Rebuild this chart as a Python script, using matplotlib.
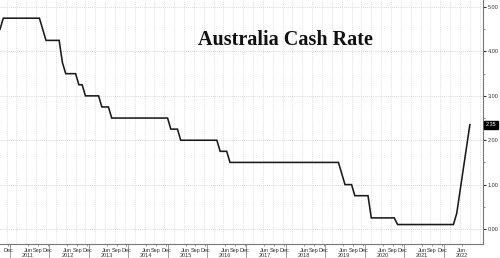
import matplotlib
matplotlib.use("Agg")
import matplotlib.pyplot as plt
from matplotlib.ticker import FixedLocator, MultipleLocator

# Vertices of the monthly cash-rate line (year, month, rate %)
years = [2010, 2010, 2011, 2011, 2011, 2012, 2012, 2012, 2012, 2012, 2012, 2012,
         2013, 2013, 2013, 2013, 2015, 2015, 2015, 2015, 2016, 2016, 2016, 2016,
         2019, 2019, 2019, 2019, 2019, 2020, 2020, 2020, 2020, 2022, 2022, 2022,
         2022, 2022, 2022]
months = [10, 11, 10, 11, 12, 4, 5, 6, 9, 10, 11, 12,
          4, 5, 7, 8, 1, 2, 4, 5, 4, 5, 7, 8,
          5, 6, 7, 9, 10, 2, 3, 10, 11, 4, 5, 6,
          7, 8, 9]
rates = [4.50, 4.75, 4.75, 4.50, 4.25, 4.25, 3.75, 3.50, 3.50, 3.25, 3.25, 3.00,
         3.00, 2.75, 2.75, 2.50, 2.50, 2.25, 2.25, 2.00, 2.00, 1.75, 1.75, 1.50,
         1.50, 1.25, 1.00, 1.00, 0.75, 0.75, 0.25, 0.25, 0.10, 0.10, 0.35, 0.85,
         1.35, 1.85, 2.35]

title = "Australia Cash Rate"
last_label = "2.35"
ytick_values = [0, 1, 2, 3, 4, 5]
label_years = list(range(2010, 2023))

plt.rcParams["font.family"] = ["Liberation Sans", "DejaVu Sans"]

x = [y + (m - 1) / 12 for y, m in zip(years, months)]

fig = plt.figure(figsize=(5.0, 2.58), dpi=100)
ax = fig.add_axes([0.0, 0.054, 0.966, 0.946])

ax.plot(x, rates, color="#1a1a1a", lw=1.15, solid_joinstyle="miter")

ax.set_xlim(2010.75, 2023.0)
ax.set_ylim(-0.34, 5.16)

# y axis on right
ax.yaxis.tick_right()
ax.yaxis.set_major_locator(FixedLocator(ytick_values))
ax.yaxis.set_minor_locator(MultipleLocator(0.5))
ax.set_yticklabels([f"{v:.2f}" for v in ytick_values])
ax.tick_params(axis="y", which="major", length=2.5, width=0.8, color="#333333",
               labelsize=4.0, labelcolor="#333333", pad=1.0, direction="out")
ax.tick_params(axis="y", which="minor", length=1.5, width=0.5, color="#666666")

# x axis: year separators (major) and month labels (minor)
sep = [yr + 0.0 for yr in range(2011, 2023)]
lab_pos, lab_txt = [], []
for yr in label_years:
    for m, name in [(6, "Jun"), (9, "Sep"), (12, "Dec")]:
        t = yr + (m - 0.5) / 12
        if t < 2010.8 or t > 2022.6:
            continue
        lab_pos.append(t)
        lab_txt.append(f"{name}\n{yr}" if m == 6 else name)
ax.xaxis.set_major_locator(FixedLocator(sep))
ax.set_xticklabels([""] * len(sep))
ax.xaxis.set_minor_locator(FixedLocator(lab_pos))
ax.xaxis.set_minor_formatter(plt.FixedFormatter(lab_txt))
ax.tick_params(axis="x", which="major", length=14, width=0.5, color="#777777")
ax.tick_params(axis="x", which="minor", length=1.5, width=0.5, color="#777777",
               labelsize=4.0, labelcolor="#333333", pad=1)
for lbl in ax.xaxis.get_minorticklabels():
    lbl.set_linespacing(1.15)
    lbl.set_verticalalignment("top")

# grids
for v in ytick_values:
    ax.axhline(v, color="#c8c8c8", lw=0.6, ls=(0, (1, 1.5)), zorder=0)
qtr = [yr + (m - 1) / 12 for yr in range(2010, 2023) for m in (3, 6, 9, 12)]
for q in qtr:
    if 2010.75 < q < 2023.0:
        ax.axvline(q, color="#d2d2d2", lw=0.6, ls=(0, (1, 1.5)), zorder=0)

for s in ["left", "top"]:
    ax.spines[s].set_visible(False)
for s in ["right", "bottom"]:
    ax.spines[s].set_color("#777777")
    ax.spines[s].set_linewidth(0.8)

ax.text(0.59, 0.836, title, transform=ax.transAxes, ha="center", va="center",
        fontsize=14.5, fontweight="bold", family="Liberation Serif", color="#111111")

ax.annotate(last_label, xy=(1.0, rates[-1]), xycoords=("axes fraction", "data"),
            xytext=(2.0, 0), textcoords="offset points", ha="left", va="center",
            fontsize=4.0, color="white",
            bbox=dict(boxstyle="square,pad=0.3", fc="black", ec="black"))

fig.savefig("out.png", dpi=100)
